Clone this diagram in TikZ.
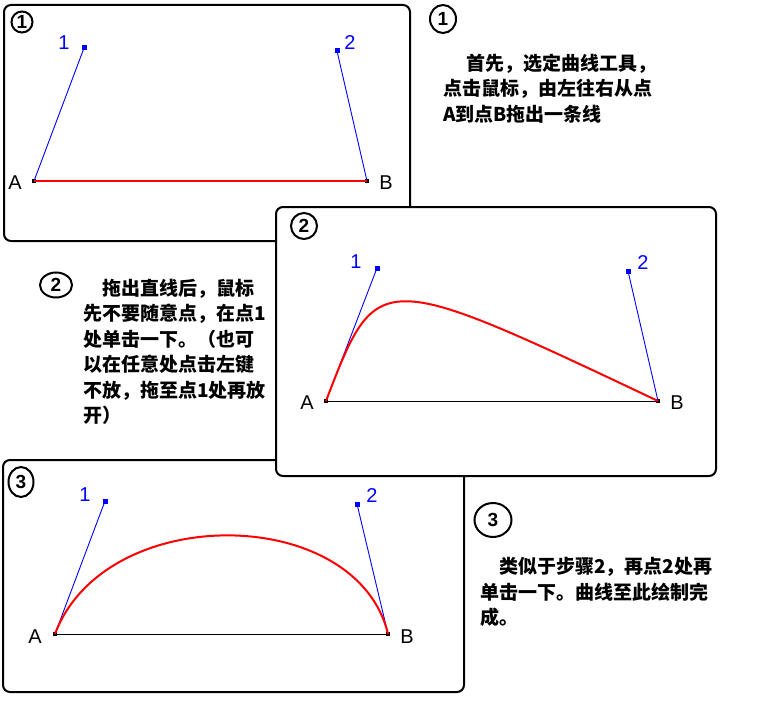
\documentclass[tikz,border=0pt]{standalone}
\usepackage{fontspec}
\setmainfont{Liberation Sans}
\newfontfamily\cjk{Noto Sans CJK SC}
\usetikzlibrary{shapes.geometric}
\definecolor{Ink}{HTML}{000000}
\definecolor{Handle}{HTML}{0000FF}
\definecolor{Stroke}{HTML}{FF0000}

\begin{document}
\begin{tikzpicture}[x=1pt,y=-1pt,
    panel/.style={draw=Ink,line width=2pt,rounded corners=7pt,fill=white},
    pt/.style={rectangle,fill=Ink,inner sep=0pt,minimum size=4pt},
    handle/.style={rectangle,fill=Handle,inner sep=0pt,minimum size=5pt},
    handleline/.style={draw=Handle,line width=0.9pt},
    baseline/.style={draw=Ink,line width=1pt},
    curve/.style={draw=Stroke,line width=2pt},
    ptlabel/.style={inner sep=0pt,font=\fontsize{20}{22}\selectfont},
    hlabel/.style={ptlabel,text=Handle},
    hand/.style={ellipse,draw=Ink,line width=2pt,inner sep=0pt,
      font=\bfseries\fontsize{19}{20}\selectfont},
    note/.style={anchor=north west,inner sep=0pt,align=left,
      font=\cjk\bfseries\fontsize{19}{25.5}\selectfont}
  ]
  \useasboundingbox[fill=white] (0,0) rectangle (758,725);

  % step 1: straight line
  \draw[panel] (4,5) rectangle (410,241);
  \node[hand,minimum width=21pt,minimum height=21pt] (num1) at (22,22) {1};
  \node[pt] (A1) at (34,181) {};
  \node[pt] (B1) at (367,181) {};
  \node[handle] (P11) at (84,48) {};
  \node[handle] (P12) at (337,51) {};
  \draw[handleline] (A1.center) -- (P11.center);
  \draw[handleline] (B1.center) -- (P12.center);
  \draw[curve] (A1.center) -- (B1.center);
  \node[ptlabel] (A1l) at (15,183) {A};
  \node[ptlabel] (B1l) at (386,183) {B};
  \node[hlabel] (P11l) at (64,43) {1};
  \node[hlabel] (P12l) at (350,43) {2};

  % step 3: both handles
  \draw[panel] (3,460) rectangle (464,692);
  \node[hand,minimum width=25pt,minimum height=30pt] (num3) at (21,482) {3};
  \node[pt] (A3) at (55,634) {};
  \node[pt] (B3) at (388,634) {};
  \node[handle] (P31) at (105,501) {};
  \node[handle] (P32) at (357,504) {};
  \draw[handleline] (A3.center) -- (P31.center);
  \draw[handleline] (B3.center) -- (P32.center);
  \draw[baseline] (A3.center) -- (B3.center);
  \draw[curve] (A3.center) .. controls (P31.center) and (P32.center) .. (B3.center);
  \node[ptlabel] (A3l) at (35,637) {A};
  \node[ptlabel] (B3l) at (407,637) {B};
  \node[hlabel] (P31l) at (85,495) {1};
  \node[hlabel] (P32l) at (372,496) {2};

  % step 2: first handle (on top)
  \draw[panel] (276,207) rectangle (716,476);
  \node[hand,minimum width=26pt,minimum height=26pt] (num2) at (304,226) {2};
  \node[pt] (A2) at (326,401) {};
  \node[pt] (B2) at (658,401) {};
  \node[handle] (P21) at (377,268) {};
  \node[handle] (P22) at (628,271) {};
  \draw[handleline] (A2.center) -- (P21.center);
  \draw[handleline] (B2.center) -- (P22.center);
  \draw[baseline] (A2.center) -- (B2.center);
  \draw[curve] (A2.center) .. controls (P21.center) and (P21.center) .. (B2.center);
  \node[ptlabel] (A2l) at (307,403) {A};
  \node[ptlabel] (B2l) at (677,403) {B};
  \node[hlabel] (P21l) at (356,262) {1};
  \node[hlabel] (P22l) at (643,263) {2};

  % notes
  \node[hand,minimum width=26pt,minimum height=28pt] (tag1) at (443,19) {1};
  \node[note] (note1) at (443,53.5)
    {\hspace*{23.5pt}首先，选定曲线工具，\\点击鼠标，由左往右从点\\A到点B拖出一条线};
  \node[hand,minimum width=32pt,minimum height=25pt] (tag2) at (56,285) {2};
  \node[note] (note2) at (83,278.5)
    {\hspace*{19pt}拖出直线后，鼠标\\先不要随意点，在点1\\处单击一下。（也可\\以在任意处点击左键\\不放，拖至点1处再放\\开）};
  \node[hand,minimum width=37pt,minimum height=34pt] (tag3) at (493,520) {3};
  \node[note] (note3) at (480,557.5)
    {\hspace*{19pt}类似于步骤2，再点2处再\\单击一下。曲线至此绘制完\\成。};
\end{tikzpicture}
\end{document}
